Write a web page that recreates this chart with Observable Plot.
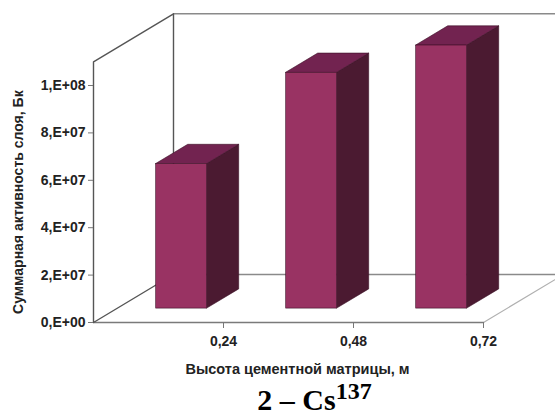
<!DOCTYPE html>
<html><head><meta charset="utf-8">
<script src="https://cdn.jsdelivr.net/npm/d3@7"></script>
<script src="https://cdn.jsdelivr.net/npm/@observablehq/plot@0.6"></script>
<style>
html,body{margin:0;padding:0;background:#fff;overflow:hidden;}
#title{height:32px;width:555px;font:bold 30px "Liberation Serif",serif;line-height:32px;color:#000;text-align:center;white-space:nowrap;overflow:visible;}
#title .in{position:relative;left:37px;}
#title sup{font-size:24px;vertical-align:baseline;position:relative;top:-11px;}
</style></head><body>
<div id="chart"></div>
<div id="title"><span class="in">2 – Cs<sup>137</sup></span></div>
<script>
// ---- data ----
const categories = ["0,24", "0,48", "0,72"];
const values = [6.1e7, 9.95e7, 1.11e8];
const yTicks = [0, 2e7, 4e7, 6e7, 8e7, 1e8];
const yTickLabels = ["0,E+00", "2,E+07", "4,E+07", "6,E+07", "8,E+07", "1,E+08"];
const yMax = 1.1e8;
const yTitle = "Суммарная активность слоя, Бк";
const xTitle = "Высота цементной матрицы, м";

// ---- 3D layout (oblique projection in data units) ----
const nCat = categories.length;
const depthU = 80 / 130;            // depth offset along x (category units)
const depthV = yMax * 48 / 260.7;   // depth offset along y (value units)
const barW = 0.392, f0 = 0.29, f1 = 0.69;

const bars = categories.map((c, i) => ({c, v: values[i], xl: i + 0.5 - barW / 2, xr: i + 0.5 + barW / 2}));
const sideFaces = bars.flatMap(d => [f0, f1].map(f => ({c: d.c, x: d.xr + f * depthU, y1: f * depthV, y2: d.v + f * depthV})));
const topFaces = bars.flatMap(d => [f0, f1].map(f => ({c: d.c, y: d.v + f * depthV, x1: d.xl + f * depthU, x2: d.xr + f * depthU})));

const leftWall = [[0, 0], [0, yMax], [depthU, yMax + depthV], [depthU, depthV], [0, 0]];
const backTop = [[depthU, yMax + depthV], [nCat + depthU, yMax + depthV], [nCat + depthU, depthV]];
const backFloor = [[depthU, depthV], [nCat + depthU, depthV]];
const frontFloor = [[0, 0], [nCat, 0]];
const rightFloor = [[nCat, 0], [nCat + depthU, depthV]];

const edge = "#3a0f25";
const plot = Plot.plot({
  width: 555, height: 384,
  marginLeft: 93, marginRight: 0, marginTop: 61.3, marginBottom: 62,
  x: {domain: [0, 462 / 130]},
  y: {domain: [0, yMax]},
  style: {fontFamily: "'Liberation Sans', Arial, sans-serif", fontSize: "14px", fontWeight: "bold", color: "#222", background: "#fff"},
  marks: [
    Plot.line(backTop, {stroke: "#8a8a8a", strokeWidth: 1.4}),
    Plot.line(backFloor, {stroke: "#8a8a8a", strokeWidth: 1.4}),
    Plot.line(rightFloor, {stroke: "#b0b0b0", strokeWidth: 1.2}),
    Plot.line(frontFloor, {stroke: "#7a7a7a", strokeWidth: 1.4}),
    Plot.line(leftWall, {stroke: "#555", strokeWidth: 1.4}),
    Plot.axisY({ticks: yTicks, tickFormat: d => yTickLabels[yTicks.indexOf(d)], tickSize: 5, tickPadding: 3, label: null, stroke: "#777", fill: "#222"}),
    Plot.axisX({ticks: [1, 2, 3], tickFormat: d => categories[d - 1], tickSize: 6, tickPadding: 8, label: null, stroke: "#777", fill: "#222"}),
    Plot.areaY(sideFaces, {x: "x", y1: "y1", y2: "y2", z: "c", fill: "#4b1a31", stroke: edge, strokeWidth: 0.6}),
    Plot.areaX(topFaces, {y: "y", x1: "x1", x2: "x2", z: "c", fill: "#722350", stroke: edge, strokeWidth: 0.6}),
    Plot.rect(bars, {x1: d => d.xl + f0 * depthU, x2: d => d.xr + f0 * depthU, y1: () => f0 * depthV, y2: d => d.v + f0 * depthV, fill: "#993363", stroke: edge, strokeWidth: 0.6}),
    Plot.text([xTitle], {frameAnchor: "bottom", text: d => d, textAnchor: "middle", dx: -27, dy: 51, fill: "#222", fontSize: 14.5}),
    Plot.text([yTitle], {frameAnchor: "left", text: d => d, textAnchor: "middle", rotate: -90, dx: -74.5, dy: 10, fill: "#222", fontSize: 14})
  ]
});
document.getElementById("chart").appendChild(plot);
</script>
</body></html>
